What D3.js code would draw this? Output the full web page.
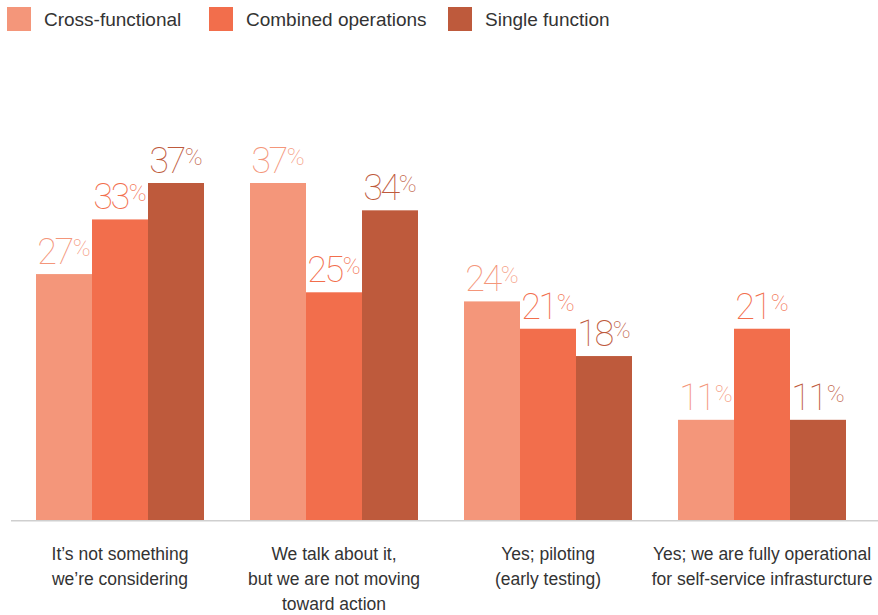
<!DOCTYPE html>
<html>
<head>
<meta charset="utf-8">
<script src="https://cdn.jsdelivr.net/npm/d3@7"></script>
<style>
  html, body { margin: 0; padding: 0; background: #fff; }
  svg { display: block; }
</style>
</head>
<body>
<svg id="chart" width="878" height="615"></svg>
<script>
const categories = [
  ["It\u2019s not something", "we\u2019re considering"],
  ["We talk about it,", "but we are not moving", "toward action"],
  ["Yes; piloting", "(early testing)"],
  ["Yes; we are fully operational", "for self-service infrasturcture"]
];
const seriesNames = ["Cross-functional", "Combined operations", "Single function"];
const crossFunctional = [27, 37, 24, 11];
const combinedOperations = [33, 25, 21, 21];
const singleFunction = [37, 34, 18, 11];
const colors = ["#F4967A", "#F26E4C", "#BE5A3C"];

const seriesValues = [crossFunctional, combinedOperations, singleFunction];
const svg = d3.select("#chart");
const baseY = 520;

const x0 = d3.scaleBand().domain(d3.range(categories.length))
  .range([13, 869]).paddingInner(0.215).paddingOuter(0.1075);
const x1 = d3.scaleBand().domain(d3.range(seriesNames.length))
  .range([0, x0.bandwidth()]);
const y = d3.scaleLinear().domain([0, 37]).range([baseY, 183]);

// axis line
svg.append("line")
  .attr("x1", 11).attr("x2", 878)
  .attr("y1", baseY + 0.75).attr("y2", baseY + 0.75)
  .attr("stroke", "#cfcfcf").attr("stroke-width", 1.5);

const groups = svg.append("g").selectAll("g")
  .data(categories).join("g")
  .attr("transform", (d, i) => `translate(${x0(i)},0)`);

groups.each(function(cat, ci) {
  const g = d3.select(this);
  seriesValues.forEach((vals, si) => {
    const v = vals[ci];
    g.append("rect")
      .attr("x", x1(si)).attr("width", x1.bandwidth())
      .attr("y", y(v)).attr("height", baseY - y(v))
      .attr("fill", colors[si]);
    const t = g.append("text")
      .attr("x", x1(si) + x1.bandwidth() / 2)
      .attr("y", y(v) - 10)
      .attr("text-anchor", "middle")
      .attr("fill", colors[si])
      .style("font-family", "Roboto, sans-serif")
      .style("font-weight", 100)
      .style("font-size", "36px")
      .style("letter-spacing", "-2.5px");
    t.append("tspan").text(v);
    t.append("tspan").text("%")
      .style("font-size", "24px")
      .style("letter-spacing", "0px")
      .attr("dx", 1)
      .attr("dy", -8);
  });
  const lab = g.append("text")
    .attr("text-anchor", "middle")
    .attr("fill", "#333")
    .style("font-family", "'Liberation Sans', Arial, sans-serif")
    .style("font-size", "17.5px");
  cat.forEach((line, li) => {
    lab.append("tspan")
      .attr("x", x0.bandwidth() / 2)
      .attr("y", 560 + li * 25)
      .text(line);
  });
});

// legend
const legendX = [7, 209, 448];
const legend = svg.append("g").selectAll("g")
  .data(seriesNames).join("g")
  .attr("transform", (d, i) => `translate(${legendX[i]},7)`);
legend.append("rect").attr("width", 24).attr("height", 24)
  .attr("fill", (d, i) => colors[i]);
legend.append("text")
  .attr("x", 37).attr("y", 19)
  .attr("fill", "#333")
  .style("font-family", "'Liberation Sans', Arial, sans-serif")
  .style("font-size", "19px")
  .text(d => d);
</script>
</body>
</html>
